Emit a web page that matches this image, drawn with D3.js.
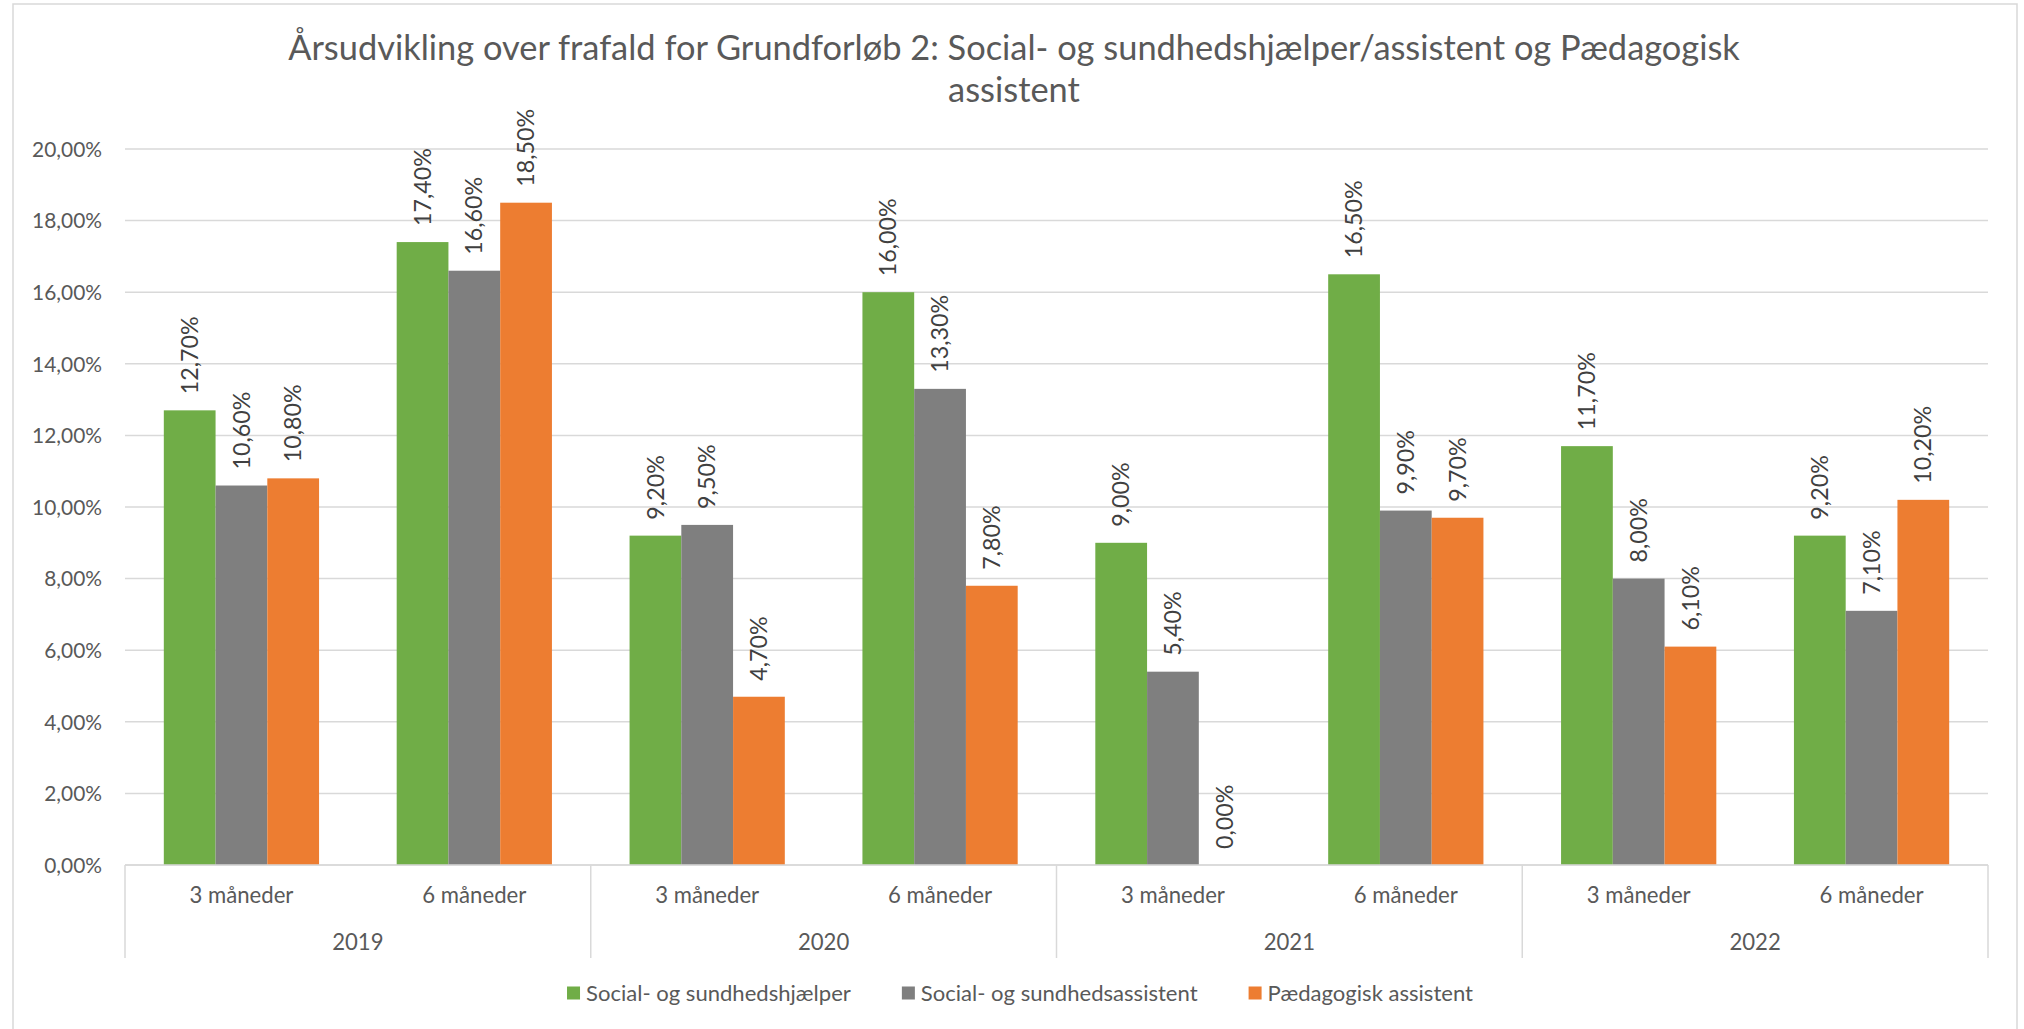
<!DOCTYPE html>
<html>
<head>
<meta charset="utf-8">
<script src="https://cdn.jsdelivr.net/npm/d3@7"></script>
<style>
  html, body { margin: 0; padding: 0; background: #ffffff; }
  svg { display: block; }
</style>
</head>
<body>
<svg id="chart" width="2024" height="1029"></svg>
<script>
// ---------- data ----------
const titleLines = ["Årsudvikling over frafald for Grundforløb 2: Social- og sundhedshjælper/assistent og Pædagogisk", "assistent"];
const years = ["2019", "2020", "2021", "2022"];
const periods = ["3 måneder", "6 måneder"];
const seriesNames = ["Social- og sundhedshjælper", "Social- og sundhedsassistent", "Pædagogisk assistent"];
const seriesColors = ["#70AD47", "#7F7F7F", "#ED7D31"];
const shjaelper   = [12.7, 17.4, 9.2, 16.0, 9.0, 16.5, 11.7, 9.2];
const sassistent  = [10.6, 16.6, 9.5, 13.3, 5.4, 9.9, 8.0, 7.1];
const paedagogisk = [10.8, 18.5, 4.7, 7.8, 0.0, 9.7, 6.1, 10.2];
const yTicks = [0, 2, 4, 6, 8, 10, 12, 14, 16, 18, 20];

// ---------- derived ----------
const categories = [];
years.forEach(y => periods.forEach(p => categories.push({ key: y + "|" + p, year: y, period: p })));
const seriesValues = [shjaelper, sassistent, paedagogisk];

const FONT = "Lato, 'Open Sans', 'Noto Sans', sans-serif";
const svg = d3.select("#chart");

function fitSize(text, target) {
  const t = svg.append("text").attr("font-family", FONT).attr("font-size", 100).text(text);
  const w = t.node().getComputedTextLength();
  t.remove();
  return 100 * target / w;
}
const fmt = v => v.toFixed(2).replace(".", ",") + "%";

const sizeTitle = fitSize(titleLines[0], 1452);
const sizeTick = fitSize("20,00%", 70);
const sizeCat = fitSize("3 måneder", 104);
const sizeData = fitSize("12,70%", 78);
const sizeLegend = fitSize(seriesNames[0], 265);

// chart border
svg.append("rect")
  .attr("x", 13).attr("y", 4).attr("width", 2004).attr("height", 1060)
  .attr("fill", "#fff").attr("stroke", "#D9D9D9").attr("stroke-width", 1.5);

// layout
const plot = { left: 125, right: 1988, top: 149, bottom: 865 };

const x = d3.scaleBand().domain(categories.map(c => c.key)).range([plot.left, plot.right]).padding(0);
const bw = x.bandwidth();
const groupFrac = 3 / 4.5; // Excel gap width 150%
const xs = d3.scaleBand().domain(d3.range(seriesNames.length))
  .range([bw * (1 - groupFrac) / 2, bw * (1 + groupFrac) / 2]).padding(0);
const y = d3.scaleLinear().domain([0, 20]).range([plot.bottom, plot.top]);

// gridlines
svg.append("g").selectAll("line").data(yTicks).join("line")
  .attr("x1", plot.left).attr("x2", plot.right)
  .attr("y1", d => y(d)).attr("y2", d => y(d))
  .attr("stroke", "#D9D9D9").attr("stroke-width", 1.5);

// y axis labels
const yAxis = d3.axisLeft(y).tickValues(yTicks).tickFormat(d => fmt(d)).tickSize(0).tickPadding(0);
const yg = svg.append("g").attr("transform", `translate(${plot.left - 23},0)`).call(yAxis);
yg.select(".domain").remove();
yg.selectAll("text").attr("font-family", FONT).attr("font-size", sizeTick).attr("fill", "#595959")
  .attr("dy", "0.35em");

// bars
const barData = [];
categories.forEach((c, ci) => seriesValues.forEach((vals, si) => barData.push({ cat: c.key, si, v: vals[ci] })));
svg.append("g").selectAll("rect").data(barData).join("rect")
  .attr("x", d => x(d.cat) + xs(d.si))
  .attr("width", xs.bandwidth())
  .attr("y", d => y(d.v))
  .attr("height", d => y(0) - y(d.v))
  .attr("fill", d => seriesColors[d.si]);

// data labels
svg.append("g").selectAll("text").data(barData).join("text")
  .attr("transform", d => `translate(${x(d.cat) + xs(d.si) + xs.bandwidth() / 2},${y(d.v) - 16}) rotate(-90)`)
  .attr("text-anchor", "start")
  .attr("dy", "0.35em")
  .attr("font-family", FONT).attr("font-size", sizeData).attr("fill", "#404040")
  .text(d => fmt(d.v));

// x axis baseline
svg.append("line").attr("x1", plot.left).attr("x2", plot.right)
  .attr("y1", plot.bottom).attr("y2", plot.bottom)
  .attr("stroke", "#D9D9D9").attr("stroke-width", 1.5);

// month labels
const xAxis = d3.axisBottom(x).tickFormat(k => k.split("|")[1]).tickSize(0).tickPadding(0);
const xg = svg.append("g").attr("transform", `translate(0,${plot.bottom})`).call(xAxis);
xg.select(".domain").remove();
xg.selectAll("text").attr("font-family", FONT).attr("font-size", sizeCat).attr("fill", "#595959")
  .attr("dy", null).attr("y", 38);

// year group separators and labels
const yearScale = d3.scaleBand().domain(years).range([plot.left, plot.right]).padding(0);
const sepX = years.map(yv => yearScale(yv)).concat([plot.right]);
svg.append("g").selectAll("line").data(sepX).join("line")
  .attr("x1", d => d).attr("x2", d => d)
  .attr("y1", plot.bottom).attr("y2", 958)
  .attr("stroke", "#D9D9D9").attr("stroke-width", 1.5);
svg.append("g").selectAll("text").data(years).join("text")
  .attr("x", d => yearScale(d) + yearScale.bandwidth() / 2)
  .attr("y", 950)
  .attr("text-anchor", "middle")
  .attr("font-family", FONT).attr("font-size", sizeCat).attr("fill", "#595959")
  .text(d => d);

// title
svg.append("g").selectAll("text").data(titleLines).join("text")
  .attr("x", 1014)
  .attr("y", (d, i) => 60 + i * 42)
  .attr("text-anchor", "middle")
  .attr("font-family", FONT).attr("font-size", sizeTitle).attr("fill", "#595959")
  .text(d => d);

// legend
const legend = svg.append("g");
const keyW = 13, keyH = 13, keyGap = 6, itemGap = 51;
let cx = 0;
const items = seriesNames.map((name, i) => {
  const g = legend.append("g");
  g.append("rect").attr("x", 0).attr("y", -keyH / 2).attr("width", keyW).attr("height", keyH).attr("fill", seriesColors[i]);
  const t = g.append("text").attr("x", keyW + keyGap).attr("dy", "0.35em")
    .attr("font-family", FONT).attr("font-size", sizeLegend).attr("fill", "#595959").text(name);
  const w = keyW + keyGap + t.node().getComputedTextLength();
  g.attr("transform", `translate(${cx},0)`);
  cx += w + itemGap;
  return w;
});
const totalW = cx - itemGap;
legend.attr("transform", `translate(${1020 - totalW / 2},993)`);
</script>
</body>
</html>
